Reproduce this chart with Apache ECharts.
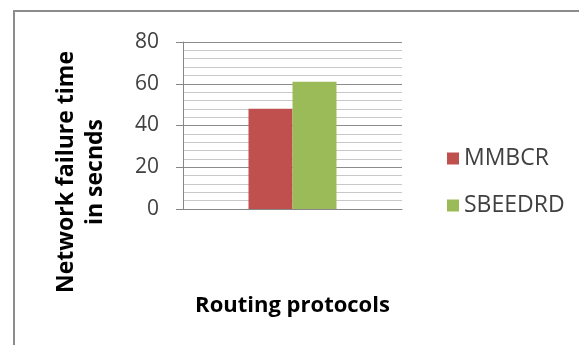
<!DOCTYPE html>
<html>
<head>
<meta charset="utf-8">
<script src="https://cdn.jsdelivr.net/npm/echarts@6/dist/echarts.min.js"></script>
<style>
  html, body { margin: 0; padding: 0; background: #fff; }
  #chart { width: 579px; height: 345px; }
</style>
</head>
<body>
<div id="chart"></div>
<script>
// Network failure time per routing protocol
const categories = [''];
const seriesNames = ['MMBCR', 'SBEEDRD'];
const mmbcrValues = [48];
const sbeedrdValues = [61];
const yTicks = { min: 0, max: 80, interval: 20 };
const yTitle = 'Network failure time\nin secnds';
const xTitle = 'Routing protocols';

const colors = ['#C0504D', '#9BBB59'];
const font = '"Open Sans", "Noto Sans", sans-serif';

const chart = echarts.init(document.getElementById('chart'), null, { renderer: 'canvas' });

chart.setOption({
  animation: false,
  color: colors,
  graphic: [
    {
      type: 'rect',
      shape: { x: 14, y: 11, width: 700, height: 500 },
      style: { fill: 'none', stroke: '#8c8c8c', lineWidth: 2 },
      silent: true
    },
    {
      // vertical axis title, set lower than the plot's middle
      type: 'text',
      x: 81,
      y: 172,
      rotation: Math.PI / 2,
      style: {
        text: yTitle,
        fontFamily: font,
        fontSize: 23,
        fontWeight: 'bold',
        fill: '#000',
        lineHeight: 29,
        align: 'center',
        verticalAlign: 'middle'
      },
      silent: true
    }
  ],
  grid: { left: 183, right: 177, top: 42, bottom: 136 },
  legend: {
    orient: 'vertical',
    left: 442,
    top: 142,
    itemWidth: 12,
    itemHeight: 12,
    itemGap: 24,
    icon: 'rect',
    textStyle: { fontFamily: font, fontSize: 23, color: '#404040' },
    data: seriesNames
  },
  xAxis: {
    type: 'category',
    data: categories,
    name: xTitle,
    nameLocation: 'middle',
    nameGap: 86,
    nameTextStyle: { fontFamily: font, fontSize: 22, fontWeight: 'bold', color: '#000' },
    axisLine: { lineStyle: { color: '#868686', width: 1 } },
    axisTick: { show: false },
    axisLabel: { show: false }
  },
  yAxis: {
    type: 'value',
    min: yTicks.min,
    max: yTicks.max,
    interval: yTicks.interval,
    axisLine: { show: true, lineStyle: { color: '#868686', width: 1 } },
    axisTick: { show: true, length: 7, lineStyle: { color: '#868686' } },
    axisLabel: { fontFamily: font, fontSize: 21, color: '#404040', margin: 24 },
    splitLine: { show: true, lineStyle: { color: '#8c8c8c', width: 1 } },
    minorTick: { show: false, splitNumber: 5 },
    minorSplitLine: { show: true, lineStyle: { color: '#c8c8c8', width: 1 } }
  },
  series: [
    { name: seriesNames[0], type: 'bar', data: mmbcrValues, barWidth: 44, barGap: '0%' },
    { name: seriesNames[1], type: 'bar', data: sbeedrdValues, barWidth: 44, barGap: '0%' }
  ]
});
</script>
</body>
</html>
